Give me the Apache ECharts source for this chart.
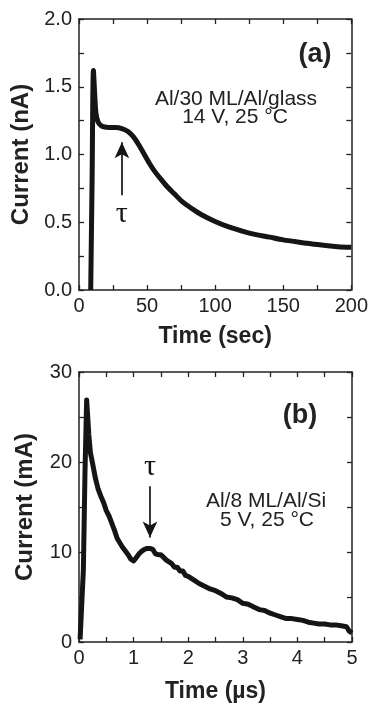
<!DOCTYPE html>
<html><head><meta charset="utf-8">
<script src="https://cdn.jsdelivr.net/npm/echarts@6/dist/echarts.min.js"></script>
<style>html,body{margin:0;padding:0;background:#fff}#c{width:371px;height:704px}</style>
</head><body><div id="c"></div>
<script>
// Panel (a): time (sec) vs current (nA)
const timeA = [8.6, 9.6, 10.6, 11.5, 12.5, 14, 16, 18, 22, 27, 32, 36, 40, 44, 48, 52, 56, 60, 65, 70, 76, 83, 90, 100, 110, 125, 140, 150, 160, 175, 190, 200];
const currA = [0, 0.8, 1.62, 1.45, 1.3, 1.24, 1.215, 1.205, 1.2, 1.2, 1.19, 1.17, 1.13, 1.07, 1.0, 0.93, 0.87, 0.82, 0.76, 0.71, 0.65, 0.6, 0.555, 0.505, 0.465, 0.42, 0.39, 0.37, 0.355, 0.335, 0.32, 0.315];
// Panel (b): time (us) vs current (mA)
const timeB = [0.02, 0.05, 0.08, 0.11, 0.14, 0.16, 0.18, 0.21, 0.25, 0.30, 0.35, 0.40, 0.45, 0.50, 0.55, 0.60, 0.65, 0.70, 0.75, 0.80, 0.85, 0.90, 0.95, 1.00, 1.05, 1.10, 1.15, 1.20, 1.25, 1.30, 1.35, 1.40, 1.45, 1.50, 1.55, 1.60, 1.65, 1.70, 1.75, 1.80, 1.85, 1.90, 1.95, 2.00, 2.10, 2.20, 2.30, 2.40, 2.50, 2.60, 2.70, 2.80, 2.90, 3.00, 3.10, 3.20, 3.30, 3.40, 3.50, 3.60, 3.70, 3.80, 3.90, 4.00, 4.10, 4.20, 4.30, 4.40, 4.50, 4.60, 4.70, 4.80, 4.90, 4.95, 5.00];
const currB = [0.3, 0.5, 8, 19, 26.9, 25, 23, 21, 19.8, 18.2, 17, 16.2, 15.5, 14.6, 14, 13.2, 12.4, 11.5, 11, 10.5, 10.1, 9.7, 9.2, 9.0, 9.4, 9.8, 10.1, 10.3, 10.4, 10.4, 10.3, 9.8, 9.7, 9.7, 9.4, 9.1, 8.9, 8.7, 8.3, 8.3, 7.9, 7.9, 7.4, 7.3, 6.9, 6.5, 6.2, 5.9, 5.7, 5.4, 5.0, 4.9, 4.7, 4.3, 4.2, 3.9, 3.6, 3.5, 3.2, 3.0, 2.8, 2.6, 2.6, 2.5, 2.4, 2.2, 2.1, 2.0, 2.0, 1.9, 1.9, 1.8, 1.7, 1.2, 1.0];
// Arrows marking tau: [x, tailY, tipY]
const tauA = [31.5, 0.70, 1.09];
const tauB = [1.30, 17.3, 11.6];
const ticksA = {xMin: 0, xMax: 200, xStep: 50, yMin: 0, yMax: 2, yStep: 0.5};
const ticksB = {xMin: 0, xMax: 5, xStep: 1, yMin: 0, yMax: 30, yStep: 10};

const SANS = 'Liberation Sans';
const ink = '#151515';
const frame = {show: true, onZero: false, lineStyle: {color: '#222', width: 1.5}};
function xAx(grid, t, pos, labels, name, gap) {
  return {
    gridIndex: grid, type: 'value', position: pos, min: t.xMin, max: t.xMax, interval: t.xStep,
    axisLine: frame, splitLine: {show: false},
    axisTick: {show: true, inside: true, length: 5, lineStyle: {color: '#222', width: 1.3}},
    minorTick: {show: true, splitNumber: 2, length: 5, lineStyle: {color: '#222', width: 1.3}},
    axisLabel: {show: labels, margin: 6, fontFamily: SANS, fontSize: 20, color: '#222', showMinLabel: true, showMaxLabel: true},
    name: labels ? name : '', nameLocation: 'middle', nameGap: gap,
    nameTextStyle: {fontFamily: SANS, fontWeight: 'bold', fontSize: 23, color: '#222'}
  };
}
function yAx(grid, t, pos, labels, name, fmt) {
  return {
    gridIndex: grid, type: 'value', position: pos, min: t.yMin, max: t.yMax, interval: t.yStep,
    axisLine: frame, splitLine: {show: false},
    axisTick: {show: true, inside: true, length: 5, lineStyle: {color: '#222', width: 1.3}},
    minorTick: {show: true, splitNumber: 2, length: 5, lineStyle: {color: '#222', width: 1.3}},
    axisLabel: {show: labels, margin: 7, fontFamily: SANS, fontSize: 20, color: '#222', formatter: fmt, showMinLabel: true, showMaxLabel: true},
    name: labels ? name : '', nameLocation: 'middle', nameGap: 42, nameRotate: 90,
    nameTextStyle: {fontFamily: SANS, fontWeight: 'bold', fontSize: 24, color: '#222'}
  };
}
function tauLine(tau) {
  return {
    silent: true, animation: false, symbol: ['none', 'arrow'], symbolSize: [11, 16],
    lineStyle: {color: ink, width: 1.7, type: 'solid'},
    label: {show: true, position: 'start', formatter: '\u03c4', fontFamily: 'Liberation Serif', fontSize: 30, color: ink, distance: 4},
    data: [[{coord: [tau[0], tau[1]]}, {coord: [tau[0], tau[2]]}]]
  };
}
const chart = echarts.init(document.getElementById('c'), null, {renderer: 'canvas'});
chart.setOption({
  animation: false,
  backgroundColor: '#fff',
  grid: [
    {left: 79, top: 19, width: 273, height: 271},
    {left: 79, top: 372, width: 273, height: 271}
  ],
  xAxis: [
    xAx(0, ticksA, 'bottom', true, 'Time (sec)', 35),
    xAx(0, ticksA, 'top', false, '', 0),
    xAx(1, ticksB, 'bottom', true, 'Time (\u00b5s)', 38),
    xAx(1, ticksB, 'top', false, '', 0)
  ],
  yAxis: [
    yAx(0, ticksA, 'left', true, 'Current (nA)', v => v.toFixed(1)),
    yAx(0, ticksA, 'right', false, '', null),
    yAx(1, ticksB, 'left', true, 'Current (mA)', v => String(v)),
    yAx(1, ticksB, 'right', false, '', null)
  ],
  series: [
    {type: 'line', xAxisIndex: 0, yAxisIndex: 0, data: timeA.map((t, i) => [t, currA[i]]),
     showSymbol: false, smooth: 0.3, lineStyle: {color: ink, width: 5}, markLine: tauLine(tauA)},
    {type: 'line', xAxisIndex: 2, yAxisIndex: 2, data: timeB.map((t, i) => [t, currB[i]]),
     showSymbol: false, lineStyle: {color: ink, width: 5, join: 'round'}, markLine: tauLine(tauB)}
  ],
  graphic: [
    {type: 'text', style: {text: '(a)', x: 315, y: 55, align: 'center', verticalAlign: 'middle', font: 'bold 27px "Liberation Sans"', fill: '#222'}},
    {type: 'text', style: {text: 'Al/30 ML/Al/glass', x: 236, y: 99, align: 'center', verticalAlign: 'middle', font: '21px "Liberation Sans"', fill: '#222'}},
    {type: 'text', style: {text: '14 V, 25 \u00b0C', x: 235, y: 117, align: 'center', verticalAlign: 'middle', font: '21px "Liberation Sans"', fill: '#222'}},
    {type: 'text', style: {text: '(b)', x: 300, y: 416, align: 'center', verticalAlign: 'middle', font: 'bold 27px "Liberation Sans"', fill: '#222'}},
    {type: 'text', style: {text: 'Al/8 ML/Al/Si', x: 266, y: 501, align: 'center', verticalAlign: 'middle', font: '21px "Liberation Sans"', fill: '#222'}},
    {type: 'text', style: {text: '5 V, 25 \u00b0C', x: 267, y: 520, align: 'center', verticalAlign: 'middle', font: '21px "Liberation Sans"', fill: '#222'}}
  ]
});
</script></body></html>
